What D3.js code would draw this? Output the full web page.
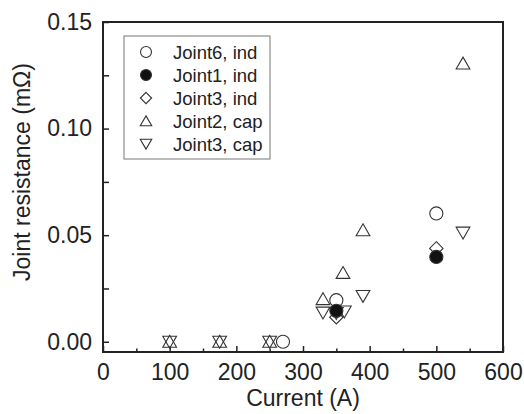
<!DOCTYPE html>
<html>
<head>
<meta charset="utf-8">
<script src="https://cdn.jsdelivr.net/npm/d3@7"></script>
<style>
  body { margin: 0; background: #fff; }
  text { font-family: "Liberation Sans", Arial, sans-serif; fill: #222; }
</style>
</head>
<body>
<div id="chart"></div>
<script>
// series: [current (A), resistance (mOhm)]
const joint6Ind = [[270, 0], [350, 0.0195], [500, 0.0602]];
const joint1Ind = [[350, 0.0145], [500, 0.0398]];
const joint3Ind = [[350, 0.0115], [500, 0.0438]];
const joint2Cap = [[100, 0], [175, 0], [250, 0], [330, 0.0200], [360, 0.0323], [390, 0.0523], [540, 0.1305]];
const joint3Cap = [[100, 0], [175, 0], [250, 0], [330, 0.0137], [350, 0.0135], [362, 0.0142], [390, 0.0215], [540, 0.0512]];

const seriesNames = ["Joint6, ind", "Joint1, ind", "Joint3, ind", "Joint2, cap", "Joint3, cap"];
const xTicks = [0, 100, 200, 300, 400, 500, 600];
const yTicks = [0, 0.05, 0.10, 0.15];

const width = 524, height = 414;
const margin = {top: 22, right: 21, bottom: 62, left: 103};

const svg = d3.select("#chart").append("svg")
    .attr("width", width)
    .attr("height", height);

// scales
const x = d3.scaleLinear().domain([0, 600]).range([margin.left, width - margin.right]);
const y = d3.scaleLinear().domain([-0.0048, 0.15]).range([height - margin.bottom, margin.top]);

// axes with inward ticks
const xAxis = d3.axisBottom(x).tickValues(xTicks).tickSize(-6).tickPadding(12).tickFormat(d3.format("d"));
const xMinor = d3.axisBottom(x).tickValues(d3.range(50, 600, 100)).tickSize(-3.5).tickFormat("");
const yAxis = d3.axisLeft(y).tickValues(yTicks).tickSize(-6).tickPadding(11).tickFormat(d3.format(".2f"));
const yMinor = d3.axisLeft(y).tickValues([0.025, 0.075, 0.125]).tickSize(-6).tickFormat("");

function styleAxis(g) {
    g.select(".domain").remove();
    g.selectAll("line").attr("stroke", "#222").attr("stroke-width", 1.5);
    g.selectAll("text").style("font-size", "23px").attr("fill", "#222");
}

svg.append("g").attr("transform", `translate(0, ${height - margin.bottom})`).call(xAxis).call(styleAxis);
svg.append("g").attr("transform", `translate(0, ${height - margin.bottom})`).call(xMinor).call(styleAxis);
svg.append("g").attr("transform", `translate(${margin.left}, 0)`).call(yAxis).call(styleAxis);
svg.append("g").attr("transform", `translate(${margin.left}, 0)`).call(yMinor).call(styleAxis);

// frame
svg.append("rect")
    .attr("x", margin.left)
    .attr("y", margin.top)
    .attr("width", width - margin.left - margin.right)
    .attr("height", height - margin.top - margin.bottom)
    .attr("fill", "none")
    .attr("stroke", "#222")
    .attr("stroke-width", 2);

// axis labels
svg.append("text")
    .attr("x", (margin.left + width - margin.right) / 2)
    .attr("y", 406)
    .attr("text-anchor", "middle")
    .style("font-size", "23px")
    .text("Current (A)");

svg.append("text")
    .attr("transform", `translate(30, 172) rotate(-90)`)
    .attr("text-anchor", "middle")
    .style("font-size", "23px")
    .text("Joint resistance (mΩ)");

// marker symbols
const symbols = [
    {type: d3.symbolCircle, size: 135, fill: "none", rotate: 0},
    {type: d3.symbolCircle, size: 135, fill: "#111", rotate: 0},
    {type: d3.symbolDiamond2, size: 115, fill: "none", rotate: 0},
    {type: d3.symbolTriangle2, size: 135, fill: "none", rotate: 0},
    {type: d3.symbolTriangle2, size: 135, fill: "none", rotate: 180}
];
const seriesData = [joint6Ind, joint1Ind, joint3Ind, joint2Cap, joint3Cap];

function drawMarker(g, s, cx, cy) {
    const yOff = s.type === d3.symbolTriangle2 ? (s.rotate ? -1.5 : 1.5) : 0;
    g.append("path")
        .attr("d", d3.symbol().type(s.type).size(s.size)())
        .attr("transform", `translate(${cx}, ${cy + yOff}) rotate(${s.rotate})`)
        .attr("fill", s.fill)
        .attr("stroke", "#333")
        .attr("stroke-width", 1.1);
}

const points = svg.append("g");
// draw open symbols first, then filled on top
[4, 3, 2, 0, 1].forEach(i => {
    seriesData[i].forEach(d => drawMarker(points, symbols[i], x(d[0]), y(d[1])));
});

// legend
const legend = svg.append("g").attr("transform", "translate(124, 36)");
legend.append("rect")
    .attr("width", 146)
    .attr("height", 123)
    .attr("fill", "#fff")
    .attr("stroke", "#777")
    .attr("stroke-width", 1);

seriesNames.forEach((name, i) => {
    const ly = 16 + i * 23;
    drawMarker(legend, {...symbols[i], size: symbols[i].size * 0.7}, 22, ly);
    legend.append("text")
        .attr("x", 49)
        .attr("y", ly + 6.5)
        .style("font-size", "18.5px")
        .text(name);
});
</script>
</body>
</html>
